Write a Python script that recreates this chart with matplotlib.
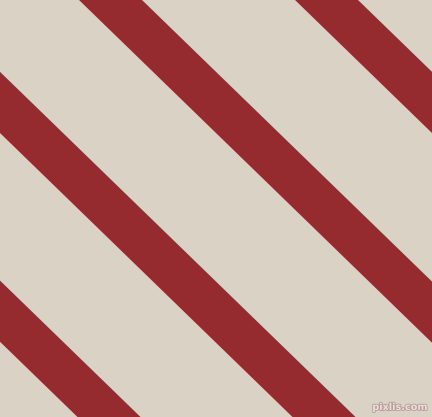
import matplotlib
matplotlib.use('Agg')
import matplotlib.pyplot as plt
import matplotlib.patheffects as pe

# image size in pixels
W, H = 432, 417

# stripes: x of the right edge at the top row, horizontal width, slope dx/dy
stripe_right_x = [-289, -74, 142, 358]
stripe_width = 63
slope = 1.03

bg_color = '#DAD2C4'
stripe_color = '#952B2F'

fig = plt.figure(figsize=(W / 100, H / 100), dpi=100)
ax = fig.add_axes([0, 0, 1, 1])
ax.set_xlim(0, W)
ax.set_ylim(H, 0)
ax.axis('off')
fig.patch.set_facecolor(bg_color)
ax.set_facecolor(bg_color)

for x0 in stripe_right_x:
    xs = [x0 - stripe_width, x0, x0 + slope * H, x0 - stripe_width + slope * H]
    ys = [0, 0, H, H]
    ax.fill(xs, ys, color=stripe_color, lw=0, antialiased=True)

# watermark
ax.text(428, 407, 'pixlis.com', ha='right', va='center', fontsize=7,
        fontweight='bold', color='#EAE2DA', family='DejaVu Sans',
        path_effects=[pe.withStroke(linewidth=1.2, foreground='#B8999A')])

fig.savefig('out.png', dpi=100, facecolor=bg_color)
